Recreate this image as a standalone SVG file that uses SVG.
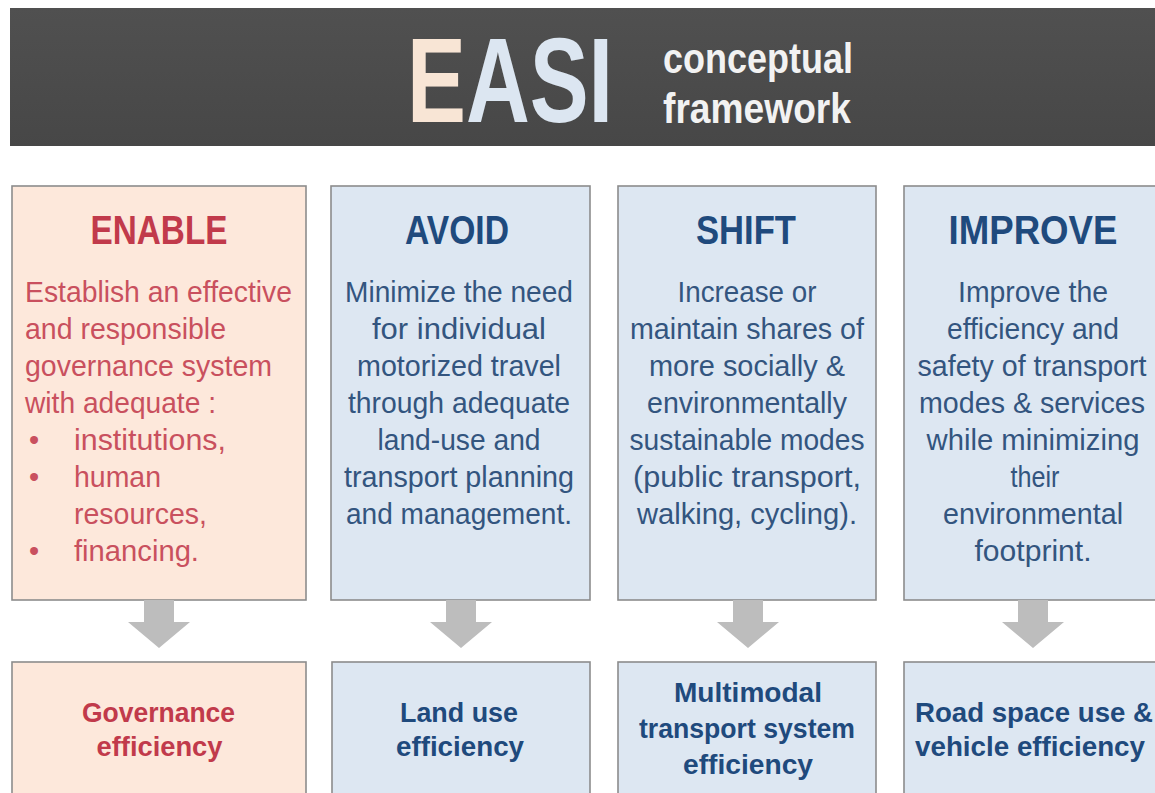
<svg xmlns="http://www.w3.org/2000/svg" width="1155" height="793" viewBox="0 0 1155 793">
<defs>
<linearGradient id="hdr" x1="0" y1="0" x2="0" y2="1">
<stop offset="0" stop-color="#505050"/>
<stop offset="1" stop-color="#474747"/>
</linearGradient>
<style>
text{font-family:"Liberation Sans Narrow","Liberation Sans",Arial,sans-serif}
.box{stroke:#8c8c8c;stroke-width:1.6}
.peach{fill:#fde8db}
.blue{fill:#dde7f2}
.title{font-size:40px;font-weight:bold;text-anchor:middle}
.tr{fill:#c13a4b}
.tb{fill:#1f4a7d}
.body{font-size:29px}
.br{fill:#c9505e}
.bb{fill:#33557f}
.mid{text-anchor:middle}
.lbl{font-size:28px;font-weight:bold}
.arrow{fill:#bdbdbd}
.hd{font-size:43px;font-weight:bold;fill:#f2f2f2}
</style>
</defs>
<rect width="1155" height="793" fill="#ffffff"/>
<g id="header">
<rect x="10" y="8" width="1150" height="138" fill="url(#hdr)"/>
<text transform="translate(407,122) scale(0.73,1)" x="0" y="0" font-size="121" font-weight="bold"><tspan fill="#f8e5d5">E</tspan><tspan fill="#dce6f1">ASI</tspan></text>
<text class="hd" x="663" y="73" textLength="190" lengthAdjust="spacingAndGlyphs">conceptual</text>
<text class="hd" x="663" y="123" textLength="188" lengthAdjust="spacingAndGlyphs">framework</text>
</g>
<g id="enable">
<rect class="box peach" x="12" y="186" width="294" height="414"/>
<text class="title tr" x="159" y="244" textLength="137" lengthAdjust="spacingAndGlyphs">ENABLE</text>
<g class="body br">
<text x="25" y="302" textLength="267" lengthAdjust="spacingAndGlyphs">Establish an effective</text>
<text x="25" y="339" textLength="201" lengthAdjust="spacingAndGlyphs">and responsible</text>
<text x="25" y="376" textLength="247" lengthAdjust="spacingAndGlyphs">governance system</text>
<text x="25" y="413" textLength="191" lengthAdjust="spacingAndGlyphs">with adequate :</text>
<text x="29" y="450">•</text>
<text x="74" y="450" textLength="152" lengthAdjust="spacingAndGlyphs">institutions,</text>
<text x="29" y="487">•</text>
<text x="74" y="487" textLength="87" lengthAdjust="spacingAndGlyphs">human</text>
<text x="74" y="524" textLength="133" lengthAdjust="spacingAndGlyphs">resources,</text>
<text x="29" y="561">•</text>
<text x="74" y="561" textLength="125" lengthAdjust="spacingAndGlyphs">financing.</text>
</g>
</g>
<g id="avoid">
<rect class="box blue" x="331" y="186" width="259" height="414"/>
<text class="title tb" x="457" y="244" textLength="104" lengthAdjust="spacingAndGlyphs">AVOID</text>
<g class="body bb mid">
<text x="459" y="302" textLength="228" lengthAdjust="spacingAndGlyphs">Minimize the need</text>
<text x="459" y="339" textLength="174" lengthAdjust="spacingAndGlyphs">for individual</text>
<text x="459" y="376" textLength="204" lengthAdjust="spacingAndGlyphs">motorized travel</text>
<text x="459" y="413" textLength="222" lengthAdjust="spacingAndGlyphs">through adequate</text>
<text x="459" y="450" textLength="163" lengthAdjust="spacingAndGlyphs">land-use and</text>
<text x="459" y="487" textLength="230" lengthAdjust="spacingAndGlyphs">transport planning</text>
<text x="459" y="524" textLength="226" lengthAdjust="spacingAndGlyphs">and management.</text>
</g>
</g>
<g id="shift">
<rect class="box blue" x="618" y="186" width="258" height="414"/>
<text class="title tb" x="746" y="244" textLength="100" lengthAdjust="spacingAndGlyphs">SHIFT</text>
<g class="body bb mid">
<text x="747" y="302" textLength="139" lengthAdjust="spacingAndGlyphs">Increase or</text>
<text x="747" y="339" textLength="234" lengthAdjust="spacingAndGlyphs">maintain shares of</text>
<text x="747" y="376" textLength="196" lengthAdjust="spacingAndGlyphs">more socially &amp;</text>
<text x="747" y="413" textLength="200" lengthAdjust="spacingAndGlyphs">environmentally</text>
<text x="747" y="450" textLength="235" lengthAdjust="spacingAndGlyphs">sustainable modes</text>
<text x="747" y="487" textLength="228" lengthAdjust="spacingAndGlyphs">(public transport,</text>
<text x="747" y="524" textLength="220" lengthAdjust="spacingAndGlyphs">walking, cycling).</text>
</g>
</g>
<g id="improve">
<rect class="box blue" x="904" y="186" width="262" height="414"/>
<text class="title tb" x="1033" y="244" textLength="169" lengthAdjust="spacingAndGlyphs">IMPROVE</text>
<g class="body bb mid">
<text x="1033" y="302" textLength="150" lengthAdjust="spacingAndGlyphs">Improve the</text>
<text x="1033" y="339" textLength="172" lengthAdjust="spacingAndGlyphs">efficiency and</text>
<text x="1032" y="376" textLength="229" lengthAdjust="spacingAndGlyphs">safety of transport</text>
<text x="1032" y="413" textLength="226" lengthAdjust="spacingAndGlyphs">modes &amp; services</text>
<text x="1033" y="450" textLength="213" lengthAdjust="spacingAndGlyphs">while minimizing</text>
<text x="1035" y="487" textLength="49" lengthAdjust="spacingAndGlyphs">their</text>
<text x="1033" y="524" textLength="180" lengthAdjust="spacingAndGlyphs">environmental</text>
<text x="1033" y="561" textLength="117" lengthAdjust="spacingAndGlyphs">footprint.</text>
</g>
</g>
<g id="connectors">
<path class="arrow" d="M144 600 H174 V622 H190 L159 648 L128 622 H144 Z"/>
<path class="arrow" d="M446 600 H476 V622 H492 L461 648 L430 622 H446 Z"/>
<path class="arrow" d="M733 600 H763 V622 H779 L748 648 L717 622 H733 Z"/>
<path class="arrow" d="M1018 600 H1048 V622 H1064 L1033 648 L1002 622 H1018 Z"/>
</g>
<g id="gov-eff">
<rect class="box peach" x="12" y="662" width="294" height="150"/>
<g class="lbl tr mid">
<text x="158.5" y="722" textLength="153" lengthAdjust="spacingAndGlyphs">Governance</text>
<text x="159.5" y="756" textLength="126" lengthAdjust="spacingAndGlyphs">efficiency</text>
</g>
</g>
<g id="land-eff">
<rect class="box blue" x="332" y="662" width="258" height="150"/>
<g class="lbl tb mid">
<text x="459" y="722" textLength="118" lengthAdjust="spacingAndGlyphs">Land use</text>
<text x="460" y="756" textLength="128" lengthAdjust="spacingAndGlyphs">efficiency</text>
</g>
</g>
<g id="multi-eff">
<rect class="box blue" x="618" y="662" width="258" height="150"/>
<g class="lbl tb mid">
<text x="748" y="702" textLength="148" lengthAdjust="spacingAndGlyphs">Multimodal</text>
<text x="747" y="738" textLength="216" lengthAdjust="spacingAndGlyphs">transport system</text>
<text x="748" y="774" textLength="130" lengthAdjust="spacingAndGlyphs">efficiency</text>
</g>
</g>
<g id="road-eff">
<rect class="box blue" x="904" y="662" width="262" height="150"/>
<g class="lbl tb">
<text x="915" y="722" textLength="238" lengthAdjust="spacingAndGlyphs">Road space use &amp;</text>
<text x="915" y="756" textLength="230" lengthAdjust="spacingAndGlyphs">vehicle efficiency</text>
</g>
</g>
</svg>
